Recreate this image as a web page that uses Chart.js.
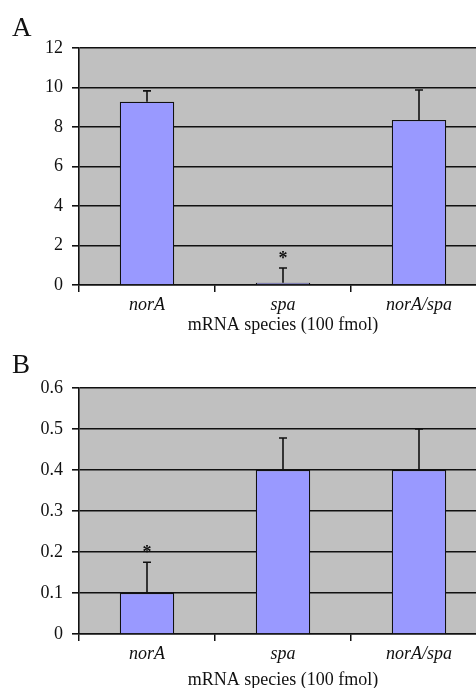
<!DOCTYPE html>
<html lang="en">
<head>
    <meta charset="UTF-8">
    <title>mRNA species</title>
    <script src="https://cdn.jsdelivr.net/npm/chart.js@4.4.1/dist/chart.umd.min.js"></script>
    <style>
        html, body { margin: 0; padding: 0; background: #fff; overflow: hidden; }
        body { width: 476px; height: 688px; position: relative; }
        .panel-label {
            position: absolute; left: 12px;
            font-family: "Liberation Serif", "Times New Roman", serif;
            font-size: 27px; line-height: 1; color: #111;
        }
        canvas { position: absolute; left: 0; }
        #chartA { top: 0; }
        #chartB { top: 330px; }
    </style>
</head>
<body>
    <canvas id="chartA" width="490" height="345"></canvas>
    <canvas id="chartB" width="490" height="370"></canvas>
    <div class="panel-label" style="top:14px;">A</div>
    <div class="panel-label" style="top:351px;">B</div>

    <script>
        // data
        const categories = ['norA', 'spa', 'norA/spa'];
        const axisTitle = 'mRNA species (100 fmol)';

        const aValues = [9.28, 0.12, 8.35];
        const aErrors = [0.55, 0.74, 1.52];
        const aStars = [false, true, false];
        const aTicks = [0, 2, 4, 6, 8, 10, 12];

        const bValues = [0.1, 0.4, 0.4];
        const bErrors = [0.075, 0.078, 0.10];
        const bStars = [true, false, false];
        const bTicks = [0, 0.1, 0.2, 0.3, 0.4, 0.5, 0.6];

        const INK = '#111';
        const serif = '"Liberation Serif", "Times New Roman", serif';

        // gray plot background
        const plotBg = {
            id: 'plotBg',
            beforeDraw(chart) {
                const a = chart.chartArea, ctx = chart.ctx;
                ctx.save();
                ctx.fillStyle = '#c0c0c0';
                ctx.fillRect(a.left, a.top, a.right - a.left, a.bottom - a.top);
                ctx.restore();
            }
        };

        // upper error whiskers + significance stars
        const whiskers = {
            id: 'whiskers',
            afterDatasetsDraw(chart, args, opts) {
                const ctx = chart.ctx;
                const y = chart.scales.y;
                const meta = chart.getDatasetMeta(0);
                ctx.save();
                ctx.strokeStyle = INK;
                ctx.lineWidth = 1.6;
                meta.data.forEach((bar, i) => {
                    const v = chart.data.datasets[0].data[i];
                    const top = y.getPixelForValue(v + opts.errors[i]);
                    const base = y.getPixelForValue(v);
                    ctx.beginPath();
                    ctx.moveTo(bar.x, base);
                    ctx.lineTo(bar.x, top);
                    ctx.moveTo(bar.x - 4, top);
                    ctx.lineTo(bar.x + 4, top);
                    ctx.stroke();
                    if (opts.stars[i]) {
                        ctx.fillStyle = INK;
                        ctx.font = 'bold 18px ' + serif;
                        ctx.textAlign = 'center';
                        ctx.textBaseline = 'alphabetic';
                        ctx.fillText('*', bar.x, top - 4);
                    }
                });
                ctx.restore();
            }
        };

        function makeChart(id, values, errors, stars, ticks, areaTop, axisHeight, titlePad) {
            const ctx = document.getElementById(id).getContext('2d');
            return new Chart(ctx, {
                type: 'bar',
                data: {
                    labels: categories,
                    datasets: [{
                        data: values,
                        backgroundColor: '#9999ff',
                        borderColor: INK,
                        borderWidth: 1.2,
                        categoryPercentage: 1,
                        barPercentage: 0.4
                    }]
                },
                options: {
                    responsive: false,
                    animation: false,
                    devicePixelRatio: 1,
                    layout: { padding: { top: areaTop, right: 3, left: 0, bottom: 0 } },
                    plugins: {
                        legend: { display: false },
                        tooltip: { enabled: false },
                        whiskers: { errors: errors, stars: stars }
                    },
                    scales: {
                        x: {
                            afterFit(scale) { scale.height = axisHeight; },
                            grid: {
                                drawOnChartArea: false,
                                offset: true,
                                color: INK,
                                lineWidth: 1.5,
                                tickLength: 7
                            },
                            border: { color: INK, width: 1.5 },
                            ticks: {
                                color: INK,
                                padding: 2,
                                font: { family: serif, size: 18, style: 'italic' }
                            },
                            title: {
                                display: true,
                                text: axisTitle,
                                color: INK,
                                padding: { top: 0, bottom: titlePad },
                                font: { family: serif, size: 18 }
                            }
                        },
                        y: {
                            min: ticks[0],
                            max: ticks[ticks.length - 1],
                            afterFit(scale) { scale.width = 79; },
                            afterBuildTicks(scale) {
                                scale.ticks = ticks.map(v => ({ value: v }));
                            },
                            grid: {
                                color: INK,
                                lineWidth: 1.6,
                                tickLength: 7
                            },
                            border: { color: INK, width: 1.6 },
                            ticks: {
                                color: INK,
                                padding: 9,
                                font: { family: serif, size: 18 },
                                callback: v => String(v)
                            }
                        }
                    }
                },
                plugins: [plotBg, whiskers]
            });
        }

        makeChart('chartA', aValues, aErrors, aStars, aTicks, 48, 60, 9);
        makeChart('chartB', bValues, bErrors, bStars, bTicks, 58, 66, 9);
    </script>
</body>
</html>
